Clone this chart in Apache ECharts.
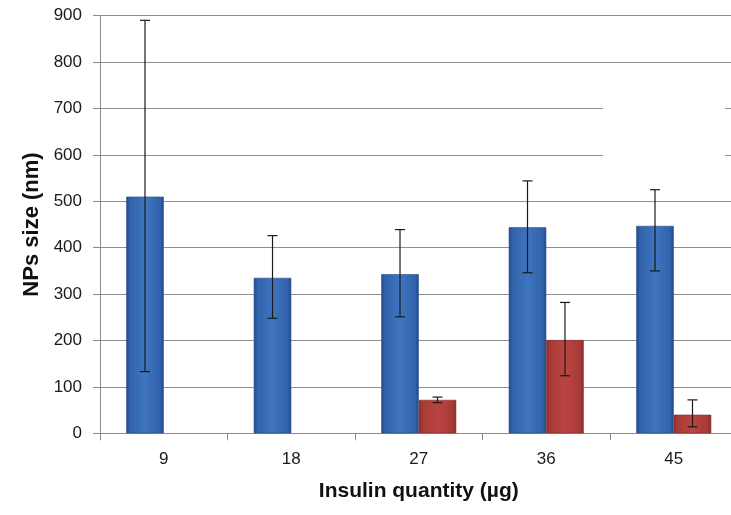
<!DOCTYPE html>
<html>
<head>
<meta charset="utf-8">
<script src="https://cdn.jsdelivr.net/npm/echarts@6/dist/echarts.min.js"></script>
<style>
html,body{margin:0;padding:0;background:#fff;}
#chart{width:731px;height:515px;}
</style>
</head>
<body>
<div id="chart"></div>
<script>
var categories = ['9', '18', '27', '36', '45'];
var blueValues = [510, 335, 343, 444, 447];
var blueLow = [133, 248, 251, 346, 350];
var blueHigh = [890, 426, 439, 544, 525];
var redValues = [null, null, 72, 201, 40];
var redLow = [null, null, 66, 124, 14];
var redHigh = [null, null, 78, 282, 72];
var yTicks = [0, 100, 200, 300, 400, 500, 600, 700, 800, 900];

var chart = echarts.init(document.getElementById('chart'));

function barGradient(edge, mid, center) {
  return new echarts.graphic.LinearGradient(0, 0, 1, 0, [
    {offset: 0, color: edge},
    {offset: 0.1, color: mid},
    {offset: 0.5, color: center},
    {offset: 0.9, color: mid},
    {offset: 1, color: edge}
  ]);
}

function errorSeries(low, high, side) {
  var data = categories.map(function (c, i) {
    return low[i] == null ? [i, null, null] : [i, low[i], high[i]];
  });
  return {
    type: 'custom',
    data: data,
    z: 5,
    silent: true,
    encode: {x: 0, y: [1, 2]},
    renderItem: function (params, api) {
      var lo = api.value(1), hi = api.value(2);
      if (lo == null || isNaN(lo)) return;
      var idx = api.value(0);
      var band = api.size([1, 0])[0];
      var off = side * band * 0.147;
      var p1 = api.coord([idx, hi]);
      var p2 = api.coord([idx, lo]);
      var x = p1[0] + off;
      var cap = 5;
      var style = {stroke: '#1a1a1a', lineWidth: 1.2};
      return {
        type: 'group',
        children: [
          {type: 'line', shape: {x1: x, y1: p1[1], x2: x, y2: p2[1]}, style: style},
          {type: 'line', shape: {x1: x - cap, y1: p1[1], x2: x + cap, y2: p1[1]}, style: style},
          {type: 'line', shape: {x1: x - cap, y1: p2[1], x2: x + cap, y2: p2[1]}, style: style}
        ]
      };
    }
  };
}

var option = {
  backgroundColor: '#ffffff',
  animation: false,
  grid: {left: 100, top: 15.7, width: 637.5, height: 417.6, containLabel: false, outerBoundsMode: 'none'},
  xAxis: {
    type: 'category',
    data: categories,
    name: 'Insulin quantity (µg)',
    nameLocation: 'middle',
    nameGap: 47,
    nameTextStyle: {fontFamily: 'Liberation Sans, Arial, sans-serif', fontWeight: 'bold', fontSize: 21, color: '#111'},
    axisLine: {lineStyle: {color: '#8a8a8a', width: 1}},
    axisTick: {show: true, length: 7, lineStyle: {color: '#8a8a8a'}},
    axisLabel: {fontFamily: 'Liberation Sans, Arial, sans-serif', fontSize: 17, color: '#1a1a1a', margin: 18}
  },
  yAxis: {
    type: 'value',
    min: 0,
    max: 900,
    interval: 100,
    name: 'NPs size (nm)',
    nameLocation: 'middle',
    nameGap: 56,
    nameTextStyle: {fontFamily: 'Liberation Sans, Arial, sans-serif', fontWeight: 'bold', fontSize: 22, color: '#111'},
    axisLine: {show: true, lineStyle: {color: '#8a8a8a', width: 1}},
    axisTick: {show: true, length: 7, lineStyle: {color: '#8a8a8a'}},
    splitLine: {lineStyle: {color: '#8f8f8f', width: 1}},
    axisLabel: {fontFamily: 'Liberation Sans, Arial, sans-serif', fontSize: 17, color: '#1a1a1a', margin: 18,
      formatter: function (v) { return yTicks.indexOf(v) >= 0 ? String(v) : ''; }}
  },
  graphic: [
    {type: 'rect', shape: {x: 603, y: 96, width: 122, height: 72}, style: {fill: '#ffffff'}, z: 1}
  ],
  series: [
    {
      type: 'bar',
      data: blueValues,
      barWidth: '29.4%',
      barGap: '0%',
      z: 3,
      itemStyle: {color: barGradient('#24498a', '#3163ab', '#3f74bf'), borderColor: '#264a86', borderWidth: 0.6}
    },
    {
      type: 'bar',
      data: redValues,
      barWidth: '29.4%',
      barGap: '0%',
      z: 3,
      itemStyle: {color: barGradient('#8c2d2a', '#a83a36', '#b94541'), borderColor: '#862a27', borderWidth: 0.6}
    },
    errorSeries(blueLow, blueHigh, -1),
    errorSeries(redLow, redHigh, 1)
  ]
};
chart.setOption(option);
</script>
</body>
</html>
